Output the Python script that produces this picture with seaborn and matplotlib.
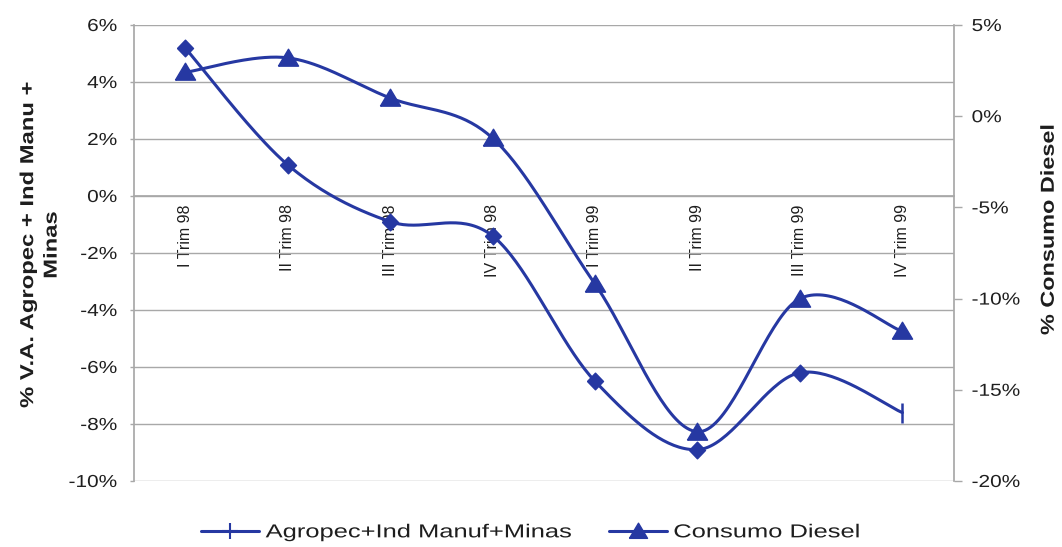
import numpy as np
import matplotlib
matplotlib.use("Agg")
import matplotlib.pyplot as plt
from matplotlib.lines import Line2D
from matplotlib.ticker import FuncFormatter, FixedLocator
from matplotlib.patheffects import AbstractPathEffect
from matplotlib.transforms import Affine2D
import seaborn as sns

# Quarterly growth rates (%)
quarters = ["I Trim 98", "II Trim 98", "III Trim 98", "IV Trim 98",
            "I Trim 99", "II Trim 99", "III Trim 99", "IV Trim 99"]
agro_ind_minas = [5.2, 1.1, -0.9, -1.4, -6.5, -8.9, -6.2, -7.6]
consumo_diesel = [2.4, 3.2, 1.0, -1.2, -9.2, -17.3, -10.0, -11.8]

left_ticks = [-10, -8, -6, -4, -2, 0, 2, 4, 6]
right_ticks = [-20, -15, -10, -5, 0, 5]

BLUE = "#2638a2"
GRID = "#a8a8a8"
TEXT = "#1e1e1e"


class WideGlyphs(AbstractPathEffect):
    """Draw text glyphs scaled along (sx) / across (sy) the reading direction."""

    def __init__(self, sx=1.0, sy=1.0, anchor="center"):
        super().__init__()
        self.sx, self.sy, self.anchor = sx, sy, anchor

    def draw_path(self, renderer, gc, tpath, affine, rgbFace=None):
        ext = tpath.get_extents()
        if self.anchor == "right":
            x0 = ext.x1
        elif self.anchor == "left":
            x0 = ext.x0
        else:
            x0 = 0.5 * (ext.x0 + ext.x1)
        y0 = 0.5 * (ext.y0 + ext.y1)
        stretch = (Affine2D().translate(-x0, -y0)
                   .scale(self.sx, self.sy).translate(x0, y0))
        renderer.draw_path(gc, tpath, stretch + affine, rgbFace)


def smooth(y, n=40):
    """Catmull-Rom style cubic Bezier through evenly spaced points."""
    y = np.asarray(y, float)
    x = np.arange(len(y), dtype=float)
    px = np.concatenate([[x[0]], x, [x[-1]]])
    py = np.concatenate([[y[0]], y, [y[-1]]])
    xs, ys = [], []
    t = np.linspace(0, 1, n)
    for i in range(len(y) - 1):
        p0 = np.array([px[i + 1], py[i + 1]])
        p3 = np.array([px[i + 2], py[i + 2]])
        c1 = p0 + (p3 - np.array([px[i], py[i]])) / 6.0
        c2 = p3 - (np.array([px[i + 3], py[i + 3]]) - p0) / 6.0
        b = ((1 - t) ** 3)[:, None] * p0 + (3 * (1 - t) ** 2 * t)[:, None] * c1 \
            + (3 * (1 - t) * t ** 2)[:, None] * c2 + (t ** 3)[:, None] * p3
        xs.append(b[:, 0])
        ys.append(b[:, 1])
    return np.concatenate(xs), np.concatenate(ys)


# wide marker shapes
diamond = [(-0.5, 0.0), (0.0, 0.52), (0.5, 0.0), (0.0, -0.52), (-0.5, 0.0)]
triangle = [(-0.5, -0.38), (0.5, -0.38), (0.0, 0.46), (-0.5, -0.38)]

sns.set_theme(style="white")
plt.rcParams["font.family"] = ["Liberation Sans", "DejaVu Sans"]

fig = plt.figure(figsize=(10.62, 5.47), dpi=100)
ax = fig.add_axes([0.126, 0.1207, 0.772, 0.8336])
ax2 = ax.twinx()

pos = np.arange(len(quarters))

# Value added series (left axis)
sx, sy = smooth(agro_ind_minas)
sns.lineplot(x=sx, y=sy, ax=ax, color=BLUE, linewidth=2.2, sort=False,
             estimator=None, zorder=4)
ax.plot(pos[:-1], agro_ind_minas[:-1], linestyle="none", marker=diamond,
        markersize=12, color=BLUE, zorder=5)
ax.plot(pos[-1:], agro_ind_minas[-1:], linestyle="none", marker="|",
        markersize=15, markeredgewidth=1.8, color=BLUE, zorder=5)

# Diesel consumption series (right axis)
dx, dy = smooth(consumo_diesel)
sns.lineplot(x=dx, y=dy, ax=ax2, color=BLUE, linewidth=2.2, sort=False,
             estimator=None, zorder=4)
ax2.plot(pos, consumo_diesel, linestyle="none", marker=triangle,
         markersize=14.5, color=BLUE, zorder=5)

# Left axis
ax.set_xlim(-0.5, len(quarters) - 0.5)
ax.set_ylim(-10, 6)
ax.yaxis.set_major_locator(FixedLocator(left_ticks))
ax.yaxis.set_major_formatter(FuncFormatter(lambda v, p: f"{v:.0f}%"))
ax.yaxis.grid(True, color=GRID, linewidth=1.0)
ax.xaxis.grid(False)
ax.tick_params(axis="y", labelsize=12.5, colors=GRID, labelcolor=TEXT,
               length=3, width=1, direction="out", pad=9)

# Category axis sits on the zero line
ax.spines["bottom"].set_position(("data", 0))
ax.spines["bottom"].set_color(GRID)
ax.set_xticks(pos)
ax.set_xticklabels(quarters, rotation=90, fontsize=11.5, color=TEXT, va="top")
ax.set_xticks(np.arange(-0.5, len(quarters), 1.0), minor=True)
ax.tick_params(axis="x", which="major", length=0, pad=6)
ax.tick_params(axis="x", which="minor", length=4, width=1, color=GRID,
               direction="in")
for s in ["top", "right"]:
    ax.spines[s].set_visible(False)
ax.spines["left"].set_color(GRID)

# Right axis
ax2.set_ylim(-20, 5)
ax2.yaxis.set_major_locator(FixedLocator(right_ticks))
ax2.yaxis.set_major_formatter(FuncFormatter(lambda v, p: f"{v:.0f}%"))
ax2.tick_params(axis="y", labelsize=12.5, colors=GRID, labelcolor=TEXT,
                length=6, width=1, direction="out", pad=7)
ax2.grid(False)
for s in ["top", "left", "bottom"]:
    ax2.spines[s].set_visible(False)
ax2.spines["right"].set_color(GRID)

# Axis titles
ylab_l = fig.text(0.038, 0.552, "% V.A. Agropec + Ind Manu +\nMinas",
                  rotation=90, ha="center", va="center", fontsize=13.5,
                  fontweight="bold", color=TEXT, multialignment="center",
                  linespacing=1.5)
ylab_r = fig.text(0.988, 0.58, "% Consumo Diesel", rotation=90, ha="center",
                  va="center", fontsize=13.5, fontweight="bold", color=TEXT)
ylab_l.set_path_effects([WideGlyphs(1.27, 1.0, "center")])
ylab_r.set_path_effects([WideGlyphs(1.25, 1.0, "center")])

# Legend below the plot
handles = [
    Line2D([], [], color=BLUE, linewidth=2.2, marker="+", markersize=11,
           markeredgewidth=1.5),
    Line2D([], [], color=BLUE, linewidth=2.2, marker=triangle, markersize=13),
]
leg = fig.legend(handles, ["Agropec+Ind Manuf+Minas", "Consumo Diesel"],
                 loc="center left", bbox_to_anchor=(0.173, 0.026), ncol=2,
                 frameon=False, fontsize=13.5, handlelength=3.1,
                 handletextpad=0.37, columnspacing=6.3, labelcolor=TEXT)
for t in leg.get_texts():
    t.set_path_effects([WideGlyphs(1.36, 1.0, "left")])

fig.canvas.draw()
for t in ax.get_yticklabels():
    t.set_path_effects([WideGlyphs(1.2, 1.0, "right")])
for t in ax2.get_yticklabels():
    t.set_path_effects([WideGlyphs(1.2, 1.0, "left")])

fig.savefig("out.png", dpi=100, facecolor="white")
